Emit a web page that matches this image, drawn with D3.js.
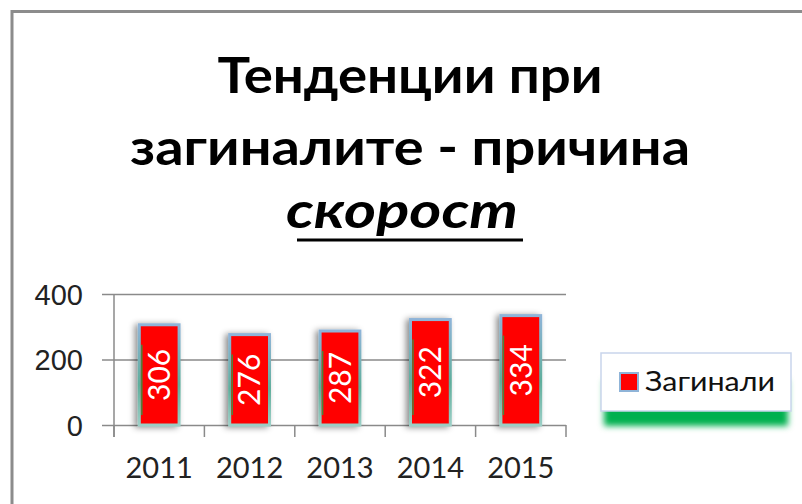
<!DOCTYPE html>
<html>
<head>
<meta charset="utf-8">
<script src="https://cdn.jsdelivr.net/npm/d3@7"></script>
<style>
  body { margin: 0; background: #fff; }
  svg { display: block; font-family: Lato, "Open Sans", sans-serif; }
  .axis text { fill: #222; font-size: 29px; }
</style>
</head>
<body>
<svg id="chart" width="802" height="504"></svg>
<script>
// data
var years = ['2011', '2012', '2013', '2014', '2015'];
var deaths = [306, 276, 287, 322, 334];
var yTicks = [0, 200, 400];
var seriesName = 'Загинали';
var titleLines = ['Тенденции при', 'загиналите - причина', 'скорост'];

var svg = d3.select('#chart');
var margins = { left: 114, right: 236, top: 294, bottom: 79 };
var width = +svg.attr('width');
var height = +svg.attr('height');
var plotW = width - margins.right - margins.left;

var x = d3.scaleBand()
  .domain(years)
  .range([margins.left, width - margins.right])
  .paddingInner(0.56)
  .paddingOuter(0.28);
var y = d3.scaleLinear()
  .domain([0, 400])
  .range([height - margins.bottom, margins.top]);

// filters / gradients
var defs = svg.append('defs');
var f = defs.append('filter').attr('id', 'shadow')
  .attr('x', '-50%').attr('y', '-20%').attr('width', '200%').attr('height', '140%');
f.append('feDropShadow')
  .attr('dx', -3).attr('dy', 1)
  .attr('stdDeviation', 3)
  .attr('flood-color', '#000')
  .attr('flood-opacity', 0.45);

var g = defs.append('linearGradient').attr('id', 'edge')
  .attr('x1', 0).attr('y1', 0).attr('x2', 0).attr('y2', 1);
g.append('stop').attr('offset', '0%').attr('stop-color', '#8fb4d8');
g.append('stop').attr('offset', '60%').attr('stop-color', '#5fae9c');
g.append('stop').attr('offset', '100%').attr('stop-color', '#9ccfc6');

var lf = defs.append('filter').attr('id', 'legendShadow')
  .attr('x', '-10%').attr('y', '-20%').attr('width', '120%').attr('height', '160%');
lf.append('feGaussianBlur').attr('stdDeviation', 3);

// outer frame
svg.append('path')
  .attr('d', 'M12,' + height + 'V11.5H' + width)
  .attr('fill', 'none')
  .attr('stroke', '#8c8c8c')
  .attr('stroke-width', 3);

// title
var title = svg.append('g').attr('class', 'title')
  .attr('font-weight', 'bold')
  .attr('font-size', 50)
  .attr('fill', '#000')
  .attr('text-anchor', 'middle');
var titleY = [93, 165, 228];
var titleX = [410, 410, 402];
var titleW = [385, 560, 232];
title.selectAll('text')
  .data(titleLines)
  .enter()
  .append('text')
  .attr('x', function (d, i) { return titleX[i]; })
  .attr('y', function (d, i) { return titleY[i]; })
  .attr('textLength', function (d, i) { return titleW[i]; })
  .attr('lengthAdjust', 'spacingAndGlyphs')
  .attr('font-style', function (d, i) { return i === 2 ? 'italic' : null; })
  .text(String);
title.append('line')
  .attr('x1', 297).attr('x2', 523)
  .attr('y1', 240).attr('y2', 240)
  .attr('stroke', '#000')
  .attr('stroke-width', 3);

// grid + y axis
var yAxis = d3.axisLeft(y)
  .tickValues(yTicks)
  .tickSize(0)
  .tickPadding(19)
  .tickFormat(d3.format('d'));
var ya = svg.append('g')
  .attr('class', 'axis y')
  .attr('transform', 'translate(' + (margins.left - 12) + ',0)')
  .call(yAxis);
ya.select('.domain').remove();
ya.selectAll('.tick line')
  .attr('stroke', '#8a8a8a')
  .attr('stroke-width', 1.5)
  .attr('x1', 0)
  .attr('x2', plotW + 12);
ya.selectAll('.tick text').attr('x', -19).attr('dy', '0.36em');

svg.append('line')
  .attr('x1', margins.left).attr('x2', margins.left)
  .attr('y1', y(400)).attr('y2', y(0) + 12)
  .attr('stroke', '#8a8a8a')
  .attr('stroke-width', 1.5);

// x axis ticks between categories
svg.append('g')
  .selectAll('line')
  .data(d3.range(years.length + 1))
  .enter()
  .append('line')
  .attr('x1', function (i) { return margins.left + i * plotW / years.length; })
  .attr('x2', function (i) { return margins.left + i * plotW / years.length; })
  .attr('y1', y(0)).attr('y2', y(0) + 12)
  .attr('stroke', '#8a8a8a')
  .attr('stroke-width', 1.5);

svg.append('g')
  .attr('class', 'axis x')
  .selectAll('text')
  .data(years)
  .enter()
  .append('text')
  .attr('x', function (d) { return x(d) + x.bandwidth() / 2; })
  .attr('y', 478)
  .attr('text-anchor', 'middle')
  .text(String);

// bars
var bars = svg.append('g').attr('class', 'bars')
  .selectAll('g')
  .data(years.map(function (d, i) { return { year: d, value: deaths[i] }; }))
  .enter()
  .append('g');

bars.append('rect')
  .attr('x', function (d) { return x(d.year); })
  .attr('y', function (d) { return y(d.value); })
  .attr('width', x.bandwidth())
  .attr('height', function (d) { return y(0) - y(d.value); })
  .attr('fill', '#ff0000')
  .attr('stroke', 'url(#edge)')
  .attr('stroke-width', 3)
  .attr('filter', 'url(#shadow)');

bars.append('line')
  .attr('x1', function (d) { return x(d.year) + 2.5; })
  .attr('x2', function (d) { return x(d.year) + 2.5; })
  .attr('y1', function (d) { return y(d.value) + 20; })
  .attr('y2', function (d) { return y(0) - 10; })
  .attr('stroke', '#1ca84a')
  .attr('stroke-width', 1.5)
  .attr('opacity', 0.8);

bars.append('text')
  .attr('transform', function (d) {
    var cx = x(d.year) + x.bandwidth() / 2;
    var cy = (y(d.value) + y(0)) / 2;
    return 'translate(' + cx + ',' + cy + ') rotate(-90)';
  })
  .attr('text-anchor', 'middle')
  .attr('dy', '0.36em')
  .attr('fill', '#fff')
  .attr('font-size', 30)
  .text(function (d) { return d.value; });

// legend
var legend = svg.append('g').attr('class', 'legend');
legend.append('rect')
  .attr('x', 604).attr('y', 380)
  .attr('width', 184).attr('height', 46)
  .attr('fill', '#00b050')
  .attr('filter', 'url(#legendShadow)');
legend.append('rect')
  .attr('x', 601).attr('y', 353)
  .attr('width', 190).attr('height', 58)
  .attr('fill', '#fff')
  .attr('stroke', '#c9d5ec')
  .attr('stroke-width', 1.5);
legend.append('rect')
  .attr('x', 620).attr('y', 373)
  .attr('width', 18).attr('height', 18)
  .attr('fill', '#ff0000')
  .attr('stroke', '#8fb4d8')
  .attr('stroke-width', 2);
legend.append('text')
  .attr('x', 645).attr('y', 391)
  .attr('font-size', 26)
  .attr('fill', '#111')
  .attr('textLength', 130)
  .attr('lengthAdjust', 'spacingAndGlyphs')
  .text(seriesName);
</script>
</body>
</html>
